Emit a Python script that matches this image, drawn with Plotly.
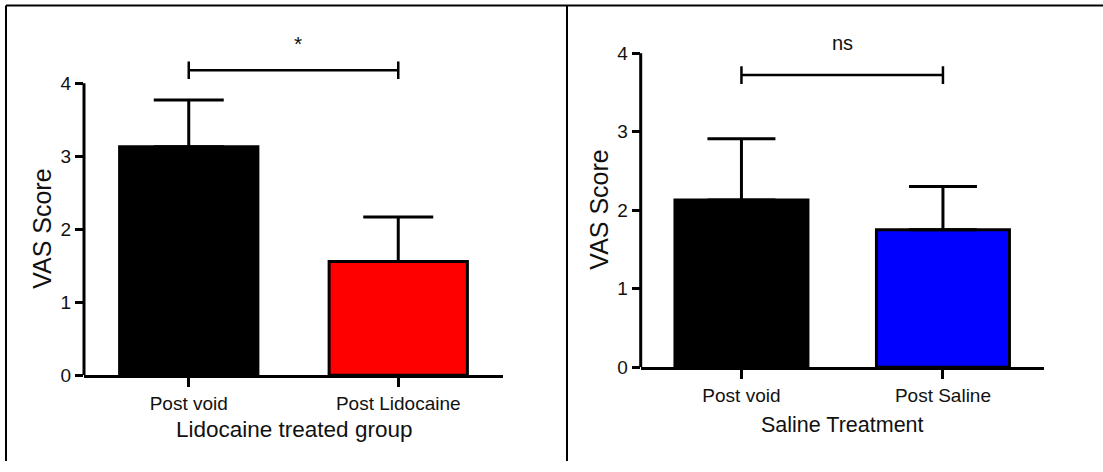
import plotly.graph_objects as go

# ---- data ----
left_categories = ["Post void", "Post Lidocaine"]
left_means = [3.13, 1.56]
left_sd = [0.64, 0.61]
left_colors = ["#000000", "#FF0000"]

right_categories = ["Post void", "Post Saline"]
right_means = [2.13, 1.75]
right_sd = [0.78, 0.55]
right_colors = ["#000000", "#0000FF"]

y_ticks = [0, 1, 2, 3, 4]
x_titles = ["Lidocaine treated group", "Saline Treatment"]
y_title = "VAS Score"
sig_labels = ["*", "ns"]
sig_heights = [4.18, 3.72]
sig_label_heights = [4.55, 4.13]
sig_tick_half = [0.12, 0.112]

W, H = 1103, 472
FONT = "Arial, Liberation Sans, sans-serif"

fig = go.Figure()

panels = [
    dict(cats=left_categories, means=left_means, sd=left_sd, colors=left_colors,
         xa="x", ya="y", capw=35),
    dict(cats=right_categories, means=right_means, sd=right_sd, colors=right_colors,
         xa="x2", ya="y2", capw=34),
]

for i, p in enumerate(panels):
    fig.add_trace(go.Bar(
        x=p["cats"], y=p["means"], xaxis=p["xa"], yaxis=p["ya"],
        width=0.66,
        marker=dict(color=p["colors"], line=dict(color="#000000", width=3)),
        error_y=dict(type="data", symmetric=False, array=p["sd"],
                     arrayminus=[0] * len(p["sd"]), color="#000000",
                     thickness=3, width=p["capw"]),
        showlegend=False, hoverinfo="skip",
    ))
    h = sig_heights[i]
    d = sig_tick_half[i]
    fig.add_trace(go.Scatter(
        x=[p["cats"][0], p["cats"][1]], y=[h, h], xaxis=p["xa"], yaxis=p["ya"],
        mode="lines", line=dict(color="#000000", width=2.5),
        showlegend=False, hoverinfo="skip"))
    for c in p["cats"]:
        fig.add_trace(go.Scatter(
            x=[c, c], y=[h - d, h + d], xaxis=p["xa"], yaxis=p["ya"],
            mode="lines", line=dict(color="#000000", width=2.5),
            showlegend=False, hoverinfo="skip"))

LTOP = 4.9
RTOP = 4.3
lx = [84 / W, 503 / W]
ly = [(H - 384.3) / H, (H - (384.3 - LTOP * 74.75)) / H]
rx = [640.7 / W, 1043.7 / W]
ry = [(H - 376) / H, (H - (376 - RTOP * 80.4)) / H]

def xaxis(domain, anchor):
    return dict(domain=domain, anchor=anchor, type="category", range=[-0.5, 1.5],
                showline=True, linecolor="#000000", linewidth=3,
                ticks="outside", ticklen=9, tickwidth=2.5, tickcolor="#000000",
                showgrid=False, zeroline=False,
                tickfont=dict(family=FONT, size=19, color="#111111"))

def yaxis(domain, anchor, rng):
    return dict(domain=domain, anchor=anchor, range=rng,
                showline=False, tickvals=y_ticks, ticktext=[str(t) for t in y_ticks],
                ticks="outside", ticklen=8, tickwidth=2.5, tickcolor="#000000",
                showgrid=False, zeroline=False,
                tickfont=dict(family=FONT, size=19, color="#111111"))

fig.update_layout(
    width=W, height=H, autosize=False,
    margin=dict(l=0, r=0, t=0, b=0),
    paper_bgcolor="white", plot_bgcolor="white",
    xaxis=xaxis(lx, "y"),
    yaxis=yaxis(ly, "x", [0, LTOP]),
    xaxis2=xaxis(rx, "y2"),
    yaxis2=yaxis(ry, "x2", [0, RTOP]),
)

shapes = []
for xr, yr in [("x domain", "y"), ("x2 domain", "y2")]:
    shapes.append(dict(type="line", xref=xr, yref=yr, x0=0, x1=0,
                       y0=y_ticks[0], y1=y_ticks[-1],
                       line=dict(color="#000000", width=3)))
shapes.append(dict(type="line", xref="paper", yref="paper", x0=6 / W, x1=1,
                   y0=1 - 5.7 / H, y1=1 - 5.7 / H, line=dict(color="#000000", width=2)))
shapes.append(dict(type="line", xref="paper", yref="paper", x0=6 / W, x1=6 / W,
                   y0=0, y1=1 - 5.7 / H, line=dict(color="#000000", width=2)))
shapes.append(dict(type="line", xref="paper", yref="paper", x0=567 / W, x1=567 / W,
                   y0=0, y1=1 - 5.7 / H, line=dict(color="#000000", width=2)))
fig.update_layout(shapes=shapes)

ann = []
ann.append(dict(xref="x", yref="y", x=0.52, y=sig_label_heights[0], text=sig_labels[0],
                showarrow=False, font=dict(family=FONT, size=21, color="#111111")))
ann.append(dict(xref="x2", yref="y2", x=0.5, y=sig_label_heights[1], text=sig_labels[1],
                showarrow=False, font=dict(family=FONT, size=20, color="#111111")))
ann.append(dict(xref="x domain", yref="paper", x=0.5, y=1 - 440 / H, text=x_titles[0],
                showarrow=False, yanchor="middle",
                font=dict(family=FONT, size=22.5, color="#111111")))
ann.append(dict(xref="x2 domain", yref="paper", x=0.5, y=1 - 435 / H, text=x_titles[1],
                showarrow=False, yanchor="middle",
                font=dict(family=FONT, size=21.5, color="#111111")))
ann.append(dict(xref="paper", yref="y", x=42.5 / W, y=2, text=y_title, textangle=-90,
                showarrow=False, xanchor="center", yanchor="middle",
                font=dict(family=FONT, size=25, color="#111111")))
ann.append(dict(xref="paper", yref="y2", x=599.5 / W, y=2, text=y_title, textangle=-90,
                showarrow=False, xanchor="center", yanchor="middle",
                font=dict(family=FONT, size=25, color="#111111")))
fig.update_layout(annotations=ann)

fig.write_html(
    "out.html",
    config={"displayModeBar": False, "responsive": False},
    post_script=(
        "document.documentElement.style.margin='0px';"
        "document.documentElement.style.overflow='hidden';"
        "document.body.style.margin='0px';"
        "document.body.style.overflow='hidden';"
    ),
)
